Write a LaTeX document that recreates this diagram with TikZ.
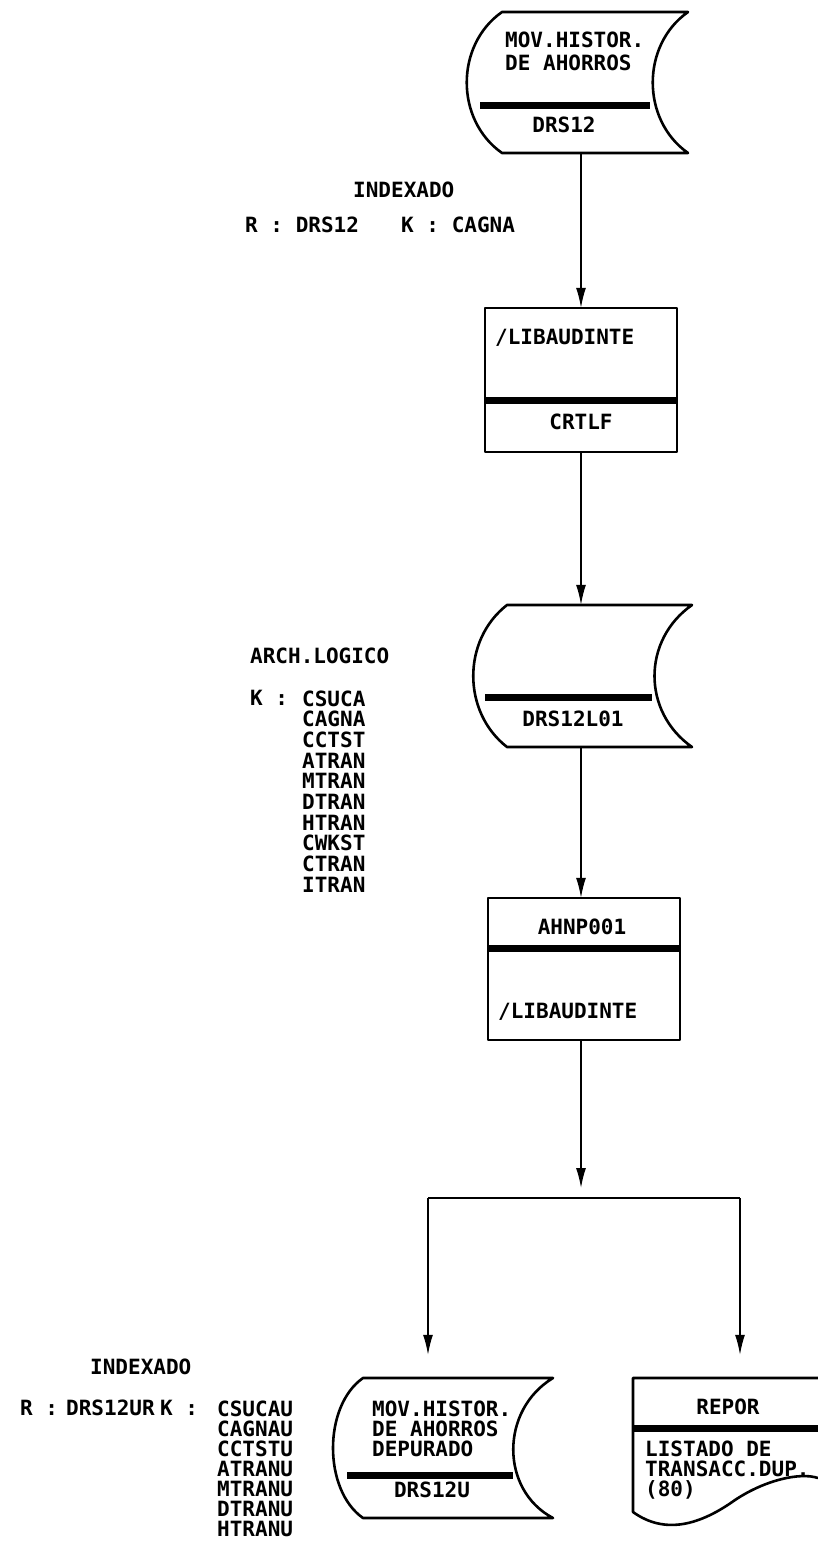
\documentclass[tikz,border=0pt]{standalone}
\usepackage{fontspec}
\newfontfamily\lp{DejaVu Sans Mono}
\newcommand\lpfont[1]{\lp\bfseries\fontsize{21}{#1}\selectfont}
\usetikzlibrary{arrows.meta}
\begin{document}
\begin{tikzpicture}[x=1pt,y=-1pt,
  txt/.style={font=\lpfont{20.5}, inner sep=0pt, anchor=west, align=left},
  outl/.style={line width=2.6pt, line join=round},
  bar/.style={line width=7pt},
  conn/.style={line width=1.5pt},
  arr/.style={conn, -{Latex[length=20pt,width=10pt]}},
  hold/.style={draw=none, inner sep=0pt}]
\useasboundingbox (0,0) rectangle (818,1542);
\fill[white] (0,0) rectangle (818,1542);

% ---- top file: MOV.HISTOR. DE AHORROS / DRS12
\node[hold, minimum width=223pt, minimum height=141pt] (f1) at (581,82.5) {};
\draw[outl] (502,12) -- (688,12) .. controls (641,45) and (641,120) .. (688,153) -- (502,153) .. controls (455,120) and (455,45) .. (502,12) -- cycle;
\draw[bar] (480,105) -- (650,105);
\node[txt, anchor=north west, font=\lpfont{23}] (t1) at (505,31.3) {MOV.HISTOR.\\DE AHORROS};
\node[txt, anchor=center] (t2) at (564,125) {DRS12};

\node[txt] (l1) at (353,190) {INDEXADO};
\node[txt] (l2a) at (245,225) {R : DRS12};
\node[txt] (l2b) at (401,225) {K : CAGNA};

% ---- process CRTLF
\node[hold, minimum width=192pt, minimum height=144pt] (p1) at (581,380) {};
\draw[outl] (485,308) rectangle (677,452);
\draw[bar] (485,400) -- (677,400);
\node[txt] (t3) at (495,338) {/LIBAUDINTE};
\node[txt, anchor=center] (t4) at (581,422) {CRTLF};

% ---- file DRS12L01
\node[hold, minimum width=219pt, minimum height=142pt] (f2) at (581,676) {};
\draw[outl] (507,605) -- (692,605) .. controls (642,640) and (642,712) .. (692,747) -- (507,747) .. controls (462,712) and (462,640) .. (507,605) -- cycle;
\draw[bar] (485,697) -- (652,697);
\node[txt, anchor=center] (t5) at (573,719) {DRS12L01};

\node[txt] (l3) at (250,656) {ARCH.LOGICO};
\node[txt] (l4) at (250,698) {K :};
\node[txt, anchor=north west, font=\lpfont{20.7}] (l5) at (302,690.3) {CSUCA\\CAGNA\\CCTST\\ATRAN\\MTRAN\\DTRAN\\HTRAN\\CWKST\\CTRAN\\ITRAN};

% ---- process AHNP001
\node[hold, minimum width=192pt, minimum height=142pt] (p2) at (581,969) {};
\draw[outl] (488,898) rectangle (680,1040);
\draw[bar] (488,948) -- (680,948);
\node[txt, anchor=center] (t6) at (582,927) {AHNP001};
\node[txt] (t7) at (498,1012) {/LIBAUDINTE};

% ---- split
\coordinate (split) at (581,1198);
\coordinate (sl) at (428,1198);
\coordinate (sr) at (740,1198);

% ---- bottom file DRS12U
\node[hold, minimum width=220pt, minimum height=140pt] (f3) at (443,1448) {};
\draw[outl] (363,1378) -- (553,1378) .. controls (500,1410) and (500,1490) .. (553,1518) -- (363,1518) .. controls (323,1490) and (323,1406) .. (363,1378) -- cycle;
\draw[bar] (347,1475) -- (513,1475);
\node[txt, anchor=north west, font=\lpfont{20}] (t8) at (372,1400.3) {MOV.HISTOR.\\DE AHORROS\\DEPURADO};
\node[txt, anchor=center] (t9) at (432,1490) {DRS12U};

\node[txt] (l6) at (90,1367) {INDEXADO};
\node[txt] (l7a) at (20,1408) {R :};
\node[txt] (l7b) at (66,1408) {DRS12UR};
\node[txt] (l7c) at (160,1408) {K :};
\node[txt, anchor=north west, font=\lpfont{20}] (l8) at (217,1400.3) {CSUCAU\\CAGNAU\\CCTSTU\\ATRANU\\MTRANU\\DTRANU\\HTRANU};

% ---- report document
\node[hold, minimum width=185pt, minimum height=140pt] (f4) at (725,1448) {};
\draw[outl] (818,1378) -- (633,1378) -- (633,1512) .. controls (665,1535) and (700,1525) .. (735,1500) .. controls (765,1480) and (800,1472) .. (818,1478);
\draw[bar] (633,1428) -- (818,1428);
\node[txt, anchor=center] (t10) at (728,1407) {REPOR};
\node[txt, anchor=north west, font=\lpfont{20}] (t11) at (645,1440.3) {LISTADO DE\\TRANSACC.DUP.\\(80)};

% ---- connectors
\draw[arr] (f1.south) -- (p1.north);
\draw[arr] (p1.south) -- (f2.north);
\draw[arr] (f2.south) -- (p2.north);
\draw[arr, shorten >=10pt] (p2.south) -- (split);
\draw[conn] (sl) -- (sr);
\draw[arr, shorten >=23pt] (sl) -- (sl |- f3.north);
\draw[arr, shorten >=23pt] (sr) -- (sr |- f4.north);
\end{tikzpicture}
\end{document}
